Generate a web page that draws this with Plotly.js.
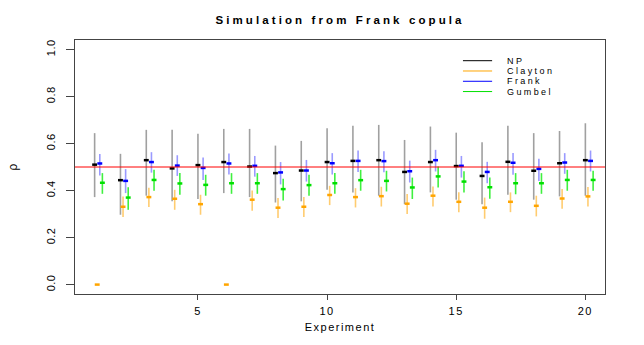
<!DOCTYPE html>
<html>
<head>
<meta charset="utf-8">
<script src="https://cdn.plot.ly/plotly-3.0.1.min.js"></script>
<style>
  body { margin: 0; background: #fff; }
  #chart { width: 644px; height: 345px; }
  .gtitle { letter-spacing: 3.1px; }
  .xtick text, .xtitle { letter-spacing: 1.5px; }
  .annotation-text { letter-spacing: 2.4px; }
  .ytick text { letter-spacing: 0.5px; }
</style>
</head>
<body>
<div id="chart"></div>
<script>
"use strict";

// experiments 1..20
const experiments = [1, 2, 3, 4, 5, 6, 7, 8, 9, 10, 11, 12, 13, 14, 15, 16, 17, 18, 19, 20];

// NP estimate with interval (lower / upper)
const npEst = [0.510, 0.444, 0.529, 0.494, 0.508, 0.521, 0.502, 0.474, 0.485, 0.521,
               0.526, 0.529, 0.479, 0.521, 0.504, 0.462, 0.522, 0.484, 0.516, 0.529];
const npLow = [0.372, 0.297, 0.378, 0.354, 0.364, 0.389, 0.372, 0.349, 0.354, 0.403,
               0.392, 0.378, 0.342, 0.392, 0.361, 0.342, 0.382, 0.361, 0.375, 0.378];
const npHigh = [0.644, 0.556, 0.658, 0.658, 0.641, 0.662, 0.662, 0.591, 0.611, 0.665,
                0.675, 0.679, 0.615, 0.672, 0.646, 0.605, 0.675, 0.644, 0.653, 0.686];

// Clayton copula fit (0 = failed fit, no interval)
const claytonEst = [0.000, 0.331, 0.372, 0.365, 0.342, 0.000, 0.361, 0.327, 0.331, 0.381,
                    0.372, 0.376, 0.344, 0.378, 0.352, 0.327, 0.352, 0.335, 0.366, 0.375];
const claytonLow = [0.000, 0.287, 0.330, 0.318, 0.297, 0.000, 0.314, 0.283, 0.287, 0.338,
                    0.328, 0.332, 0.300, 0.332, 0.308, 0.280, 0.308, 0.290, 0.322, 0.332];
const claytonHigh = [0.000, 0.375, 0.412, 0.403, 0.382, 0.000, 0.400, 0.368, 0.372, 0.420,
                     0.410, 0.416, 0.385, 0.417, 0.393, 0.370, 0.392, 0.378, 0.406, 0.415];

// Frank copula fit
const frankEst = [0.515, 0.441, 0.521, 0.506, 0.496, 0.515, 0.505, 0.477, 0.485, 0.516,
                  0.526, 0.525, 0.482, 0.529, 0.505, 0.479, 0.518, 0.492, 0.519, 0.526];
const frankLow = [0.464, 0.389, 0.476, 0.462, 0.445, 0.468, 0.459, 0.426, 0.438, 0.468,
                  0.479, 0.478, 0.434, 0.481, 0.455, 0.431, 0.467, 0.441, 0.471, 0.481];
const frankHigh = [0.555, 0.491, 0.563, 0.550, 0.540, 0.557, 0.547, 0.521, 0.530, 0.559,
                   0.570, 0.567, 0.527, 0.573, 0.547, 0.522, 0.559, 0.535, 0.559, 0.570];

// Gumbel copula fit
const gumbelEst = [0.433, 0.370, 0.445, 0.430, 0.424, 0.431, 0.431, 0.406, 0.423, 0.431,
                   0.444, 0.441, 0.413, 0.460, 0.438, 0.414, 0.431, 0.431, 0.445, 0.445];
const gumbelLow = [0.386, 0.318, 0.399, 0.382, 0.378, 0.386, 0.386, 0.358, 0.378, 0.386,
                   0.399, 0.396, 0.364, 0.413, 0.392, 0.365, 0.384, 0.386, 0.399, 0.399];
const gumbelHigh = [0.474, 0.414, 0.488, 0.474, 0.467, 0.474, 0.474, 0.450, 0.467, 0.474,
                    0.488, 0.484, 0.455, 0.502, 0.482, 0.455, 0.474, 0.474, 0.488, 0.484];

const methodNames = ["NP", "Clayton", "Frank", "Gumbel"];
const trueRho = 0.5;
const xTicks = [5, 10, 15, 20];
const yTicks = [0, 0.2, 0.4, 0.6, 0.8, 1.0];
const yTickText = ["0.0", "0.2", "0.4", "0.6", "0.8", "1.0"];

// styling per method: point colour, interval colour, x shift
const styles = [
    { color: "#000000", bar: "#a0a0a0", shift: 0.0 },
    { color: "#ffa500", bar: "#ffcc70", shift: 0.1 },
    { color: "#0000ff", bar: "#9a9aff", shift: 0.2 },
    { color: "#00e000", bar: "#40f040", shift: 0.3 }
];

function makeTrace(est, low, high, k) {
    let st = styles[k];
    return {
        x: experiments.map(e => e + st.shift),
        y: est,
        name: methodNames[k],
        mode: "markers",
        type: "scatter",
        showlegend: false,
        marker: { symbol: "line-ew", size: 3.5, color: st.color, line: { width: 2.5, color: st.color } },
        error_y: {
            type: "data",
            symmetric: false,
            array: high.map((h, i) => h - est[i]),
            arrayminus: low.map((l, i) => est[i] - l),
            color: st.bar,
            thickness: 1.6,
            width: 0
        }
    };
}

const data = [
    makeTrace(npEst, npLow, npHigh, 0),
    makeTrace(claytonEst, claytonLow, claytonHigh, 1),
    makeTrace(frankEst, frankLow, frankHigh, 2),
    makeTrace(gumbelEst, gumbelLow, gumbelHigh, 3)
];

// hand-made legend in the top right corner, like base R's legend()
let shapes = [{
    type: "line", xref: "paper", yref: "y",
    x0: 0, x1: 1, y0: trueRho, y1: trueRho,
    line: { color: "#ff0000", width: 1 }
}];
let annotations = [];
const legTop = 0.9185, legStep = 0.0405;
for (let k = 0; k < methodNames.length; k++) {
    let yy = legTop - k * legStep;
    shapes.push({
        type: "line", xref: "paper", yref: "paper",
        x0: 0.732, x1: 0.787, y0: yy, y1: yy,
        line: { color: styles[k].color, width: 1 }
    });
    annotations.push({
        xref: "paper", yref: "paper", x: 0.813, y: yy,
        xanchor: "left", yanchor: "middle", showarrow: false,
        text: methodNames[k],
        borderpad: 0,
        font: { size: 9, color: "#000" }
    });
}

const axisCommon = {
    showgrid: false,
    zeroline: false,
    showline: true,
    mirror: true,
    linecolor: "#444",
    linewidth: 1,
    ticks: "outside",
    tickcolor: "#444",
    tickwidth: 1
};

const layout = {
    width: 644,
    height: 345,
    margin: { l: 75, r: 39, t: 40, b: 51 },
    paper_bgcolor: "#fff",
    plot_bgcolor: "#fff",
    font: { family: "Liberation Sans, Arial, sans-serif", color: "#000", size: 11 },
    title: {
        text: "<b>Simulation from Frank copula</b>",
        font: { size: 11.5, color: "#000" },
        x: 0.528, xanchor: "center",
        y: 0.942, yref: "container", yanchor: "middle"
    },
    xaxis: Object.assign({}, axisCommon, {
        range: [0.24, 20.76],
        tickvals: xTicks,
        ticklen: 5,
        ticklabelstandoff: 2,
        tickfont: { size: 11 },
        title: { text: "Experiment", font: { size: 11 }, standoff: 7 }
    }),
    yaxis: Object.assign({}, axisCommon, {
        range: [-0.04, 1.04],
        tickvals: yTicks,
        ticktext: yTickText,
        tickangle: -90,
        ticklen: 8,
        ticklabelstandoff: 7,
        tickfont: { size: 11 },
        title: { text: "ρ", font: { size: 12 }, standoff: 24 }
    }),
    shapes: shapes,
    annotations: annotations,
    showlegend: false
};

Plotly.newPlot("chart", data, layout, { staticPlot: true, displayModeBar: false });
</script>
</body>
</html>
